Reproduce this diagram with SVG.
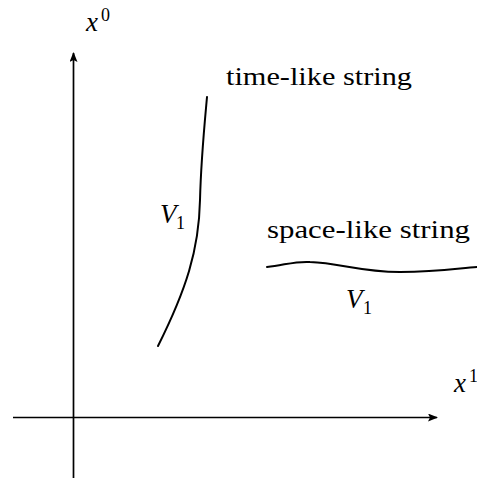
<svg xmlns="http://www.w3.org/2000/svg" width="477" height="479" viewBox="0 0 477 479">
<defs>
<style>
.ax{stroke:#000;stroke-width:1.7;fill:none}
.str{stroke:#000;stroke-width:2;fill:none;stroke-linecap:round}
.t{font-family:"Liberation Serif","DejaVu Serif",serif;font-size:25px;fill:#000}
.m{font-family:"Liberation Serif","DejaVu Serif",serif;font-style:italic;font-size:27px;fill:#000}
.s{font-family:"Liberation Serif","DejaVu Serif",serif;font-size:18px;fill:#000}
</style>
<marker id="ah" viewBox="0 0 10 8" refX="9" refY="4" markerWidth="10" markerHeight="8" markerUnits="userSpaceOnUse" orient="auto">
<path d="M0,0 L10,4 L0,8 L2,4 Z" fill="#000"/>
</marker>
</defs>
<g id="connectors">
<line class="ax" x1="73.5" y1="478" x2="73.5" y2="53" marker-end="url(#ah)"/>
<line class="ax" x1="13" y1="417.5" x2="437" y2="417.5" marker-end="url(#ah)"/>
</g>
<g id="axis-x0">
<text class="m" x="86" y="31">x</text><text class="s" x="101" y="21">0</text>
</g>
<g id="axis-x1">
<text class="m" x="454" y="392">x</text><text class="s" x="469" y="382">1</text>
</g>
<g id="timelike">
<path class="str" d="M207,97 C204,130 201,160 200,200 C199,250 186,290 158,346"/>
<text class="t" x="226" y="85" textLength="186" lengthAdjust="spacingAndGlyphs">time-like string</text>
<text class="m" x="160" y="223">V</text><text class="s" x="176" y="229">1</text>
</g>
<g id="spacelike">
<path class="str" d="M267,267 C285,265 295,261 310,262 C340,263 360,272 400,272 C440,272 460,268 477,267"/>
<text class="t" x="267" y="238" textLength="203" lengthAdjust="spacingAndGlyphs">space-like string</text>
<text class="m" x="346" y="308">V</text><text class="s" x="363" y="314">1</text>
</g>
</svg>
